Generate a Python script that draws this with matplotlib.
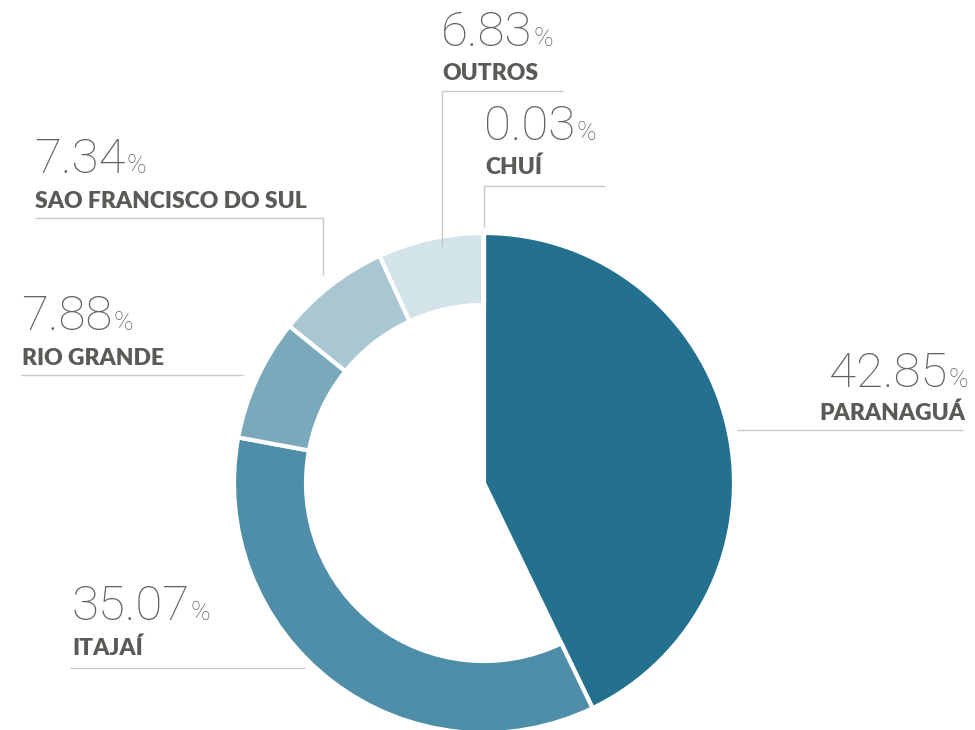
import matplotlib.pyplot as plt

# share of exports by port (%)
ports = ['PARANAGUÁ', 'ITAJAÍ', 'RIO GRANDE', 'SAO FRANCISCO DO SUL', 'OUTROS', 'CHUÍ']
shares = [42.85, 35.07, 7.88, 7.34, 6.83, 0.03]
colors = ['#23718f', '#4e8ea8', '#7aa9bc', '#a8c7d3', '#d3e3ea', '#e6eef2']

# label layout in pixels (y measured from the top): x, number baseline, name baseline, leader
layout = [
    (968, 387, 420, [(737, 430), (963, 430)], 'right'),
    (72, 620, 655, [(70, 668), (305, 668)], 'left'),
    (22, 330, 365, [(21, 375), (243, 375)], 'left'),
    (35, 173, 208, [(35, 218), (323, 218), (323, 275)], 'left'),
    (442, 46, 80, [(563, 91), (442, 91), (442, 246)], 'left'),
    (485, 140, 174, [(605, 186), (484, 186), (484, 227)], 'left'),
]

H = 730
txt_color = '#626260'
name_color = '#5a5a56'
num_font = dict(family='Roboto', fontweight='light', color=txt_color, va='baseline')

fig = plt.figure(figsize=(9.75, 7.3), dpi=100)
ax = fig.add_axes([0, 0, 1, 1])

wedges, _ = ax.pie(shares, startangle=90, counterclock=False, colors=colors,
                   radius=250, center=(484, H - 483),
                   wedgeprops=dict(edgecolor='white', linewidth=3))
for w in wedges[1:]:
    w.set_width(72)

for name, val, (x, yp, yn, pts, ha) in zip(ports, shares, layout):
    xs = [p[0] for p in pts]
    ys = [H - p[1] for p in pts]
    ax.plot(xs, ys, color='#c8c8c8', lw=1, solid_capstyle='butt')
    if ha == 'left':
        t = ax.text(x - 1, H - yp, f'{val:.2f}', fontsize=35.5, ha='left', **num_font)
        ax.annotate('%', xy=(1, H - yp), xycoords=(t, 'data'), fontsize=19,
                    ha='left', xytext=(1, 0), textcoords='offset points', **num_font)
        ax.text(x, H - yn, name, fontsize=16.5, family='Lato', fontweight='heavy',
                color=name_color, ha='left', va='baseline')
    else:
        p = ax.text(x, H - yp, '%', fontsize=19, ha='right', **num_font)
        ax.annotate(f'{val:.2f}', xy=(0, H - yp), xycoords=(p, 'data'), fontsize=35.5,
                    ha='right', xytext=(-1, 0), textcoords='offset points', **num_font)
        ax.text(x - 3, H - yn, name, fontsize=16.5, family='Lato', fontweight='heavy',
                color=name_color, ha='right', va='baseline')

ax.set_xlim(0, 975)
ax.set_ylim(0, H)
ax.set_aspect('equal')
ax.axis('off')

fig.savefig('out.png', dpi=100, facecolor='white')
